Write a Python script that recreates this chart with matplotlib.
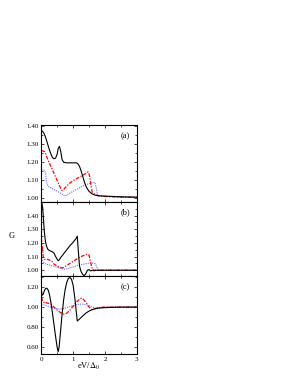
import matplotlib
matplotlib.use("Agg")
import matplotlib.pyplot as plt
from matplotlib.ticker import MultipleLocator, FormatStrFormatter, FixedLocator

plt.rcParams['font.family'] = ['Liberation Serif', 'DejaVu Serif']
plt.rcParams['mathtext.fontset'] = 'stix'

# ---------------- data ----------------
# panel (a)
xa_black = [0, 0.05, 0.1, 0.15, 0.2, 0.25, 0.3, 0.35, 0.4, 0.45, 0.5, 0.53, 0.57, 0.61, 0.65, 0.7, 0.8, 0.9, 1.0, 1.1, 1.15, 1.2, 1.25, 1.3, 1.35, 1.4, 1.45, 1.5, 1.6, 1.7, 1.8, 2.0, 2.5, 3.0]
ya_black = [1.378, 1.37, 1.355, 1.33, 1.30, 1.27, 1.245, 1.225, 1.218, 1.222, 1.245, 1.275, 1.288, 1.26, 1.215, 1.198, 1.195, 1.195, 1.195, 1.195, 1.19, 1.175, 1.15, 1.12, 1.09, 1.065, 1.048, 1.035, 1.02, 1.013, 1.01, 1.008, 1.004, 1.002]
xa_red = [0, 0.05, 0.1, 0.15, 0.2, 0.3, 0.4, 0.5, 0.6, 0.65, 0.7, 0.8, 0.9, 1.0, 1.1, 1.2, 1.3, 1.4, 1.47, 1.52, 1.56, 1.6, 1.7, 1.8, 2.0, 2.5, 3.0]
ya_red = [1.262, 1.262, 1.258, 1.24, 1.215, 1.175, 1.135, 1.095, 1.055, 1.04, 1.045, 1.065, 1.082, 1.095, 1.105, 1.115, 1.125, 1.135, 1.145, 1.12, 1.07, 1.03, 1.015, 1.01, 1.006, 1.003, 1.001]
xa_blue = [0, 0.05, 0.1, 0.13, 0.16, 0.2, 0.3, 0.4, 0.5, 0.6, 0.7, 0.75, 0.8, 0.9, 1.0, 1.1, 1.2, 1.3, 1.4, 1.5, 1.6, 1.68, 1.72, 1.76, 1.8, 2.0, 2.5, 3.0]
ya_blue = [1.155, 1.155, 1.153, 1.14, 1.09, 1.065, 1.055, 1.045, 1.035, 1.025, 1.012, 1.008, 1.015, 1.025, 1.035, 1.045, 1.055, 1.065, 1.072, 1.078, 1.083, 1.086, 1.06, 1.02, 1.01, 1.006, 1.003, 1.001]

# panel (b)
xb_black = [0, 0.02, 0.04, 0.06, 0.08, 0.1, 0.13, 0.16, 0.2, 0.25, 0.3, 0.35, 0.4, 0.45, 0.5, 0.53, 0.56, 0.6, 0.7, 0.8, 0.9, 1.0, 1.1, 1.13, 1.16, 1.2, 1.25, 1.3, 1.35, 1.4, 1.45, 1.5, 1.55, 1.6, 1.7, 2.0, 3.0]
yb_black = [1.55, 1.49, 1.46, 1.40, 1.33, 1.27, 1.21, 1.18, 1.155, 1.145, 1.14, 1.135, 1.125, 1.10, 1.08, 1.07, 1.075, 1.09, 1.12, 1.15, 1.18, 1.205, 1.235, 1.25, 1.15, 1.03, 0.99, 0.97, 0.96, 0.975, 1.00, 1.005, 0.995, 1.0, 1.0, 1.0, 1.0]
xb_red = [0, 0.03, 0.06, 0.1, 0.15, 0.2, 0.25, 0.3, 0.35, 0.4, 0.5, 0.6, 0.65, 0.7, 0.8, 0.9, 1.0, 1.1, 1.2, 1.3, 1.4, 1.45, 1.5, 1.55, 1.6, 1.65, 1.7, 1.8, 2.0, 3.0]
yb_red = [1.235, 1.17, 1.10, 1.08, 1.078, 1.08, 1.075, 1.07, 1.06, 1.045, 1.03, 1.02, 1.017, 1.02, 1.035, 1.05, 1.065, 1.08, 1.095, 1.105, 1.115, 1.118, 1.11, 1.06, 1.01, 0.995, 1.0, 1.0, 1.0, 1.0]
xb_blue = [0, 0.05, 0.1, 0.15, 0.2, 0.3, 0.4, 0.5, 0.6, 0.7, 0.8, 0.9, 1.0, 1.1, 1.2, 1.3, 1.4, 1.5, 1.6, 1.7, 1.75, 1.8, 2.0, 3.0]
yb_blue = [1.09, 1.07, 1.05, 1.045, 1.042, 1.035, 1.03, 1.022, 1.015, 1.008, 1.01, 1.018, 1.025, 1.032, 1.038, 1.043, 1.048, 1.052, 1.053, 1.048, 1.02, 1.0, 1.0, 1.0]

# panel (c)
xc_black = [0, 0.03, 0.06, 0.1, 0.14, 0.18, 0.22, 0.26, 0.3, 0.35, 0.4, 0.45, 0.5, 0.53, 0.56, 0.6, 0.65, 0.7, 0.75, 0.8, 0.85, 0.9, 0.95, 1.0, 1.05, 1.1, 1.13, 1.2, 1.3, 1.4, 1.5, 1.6, 1.7, 1.8, 2.0, 2.5, 3.0]
yc_black = [1.17, 1.12, 1.13, 1.17, 1.19, 1.19, 1.17, 1.12, 1.05, 0.94, 0.82, 0.70, 0.59, 0.55, 0.60, 0.74, 0.92, 1.07, 1.18, 1.25, 1.29, 1.30, 1.28, 1.22, 1.10, 0.95, 0.86, 0.88, 0.91, 0.94, 0.96, 0.975, 0.985, 0.99, 0.995, 1.0, 1.0]
xc_red = [0, 0.05, 0.1, 0.15, 0.2, 0.3, 0.4, 0.5, 0.6, 0.7, 0.75, 0.8, 0.9, 1.0, 1.1, 1.2, 1.25, 1.3, 1.4, 1.5, 1.6, 1.7, 1.8, 2.0, 3.0]
yc_red = [1.10, 1.06, 1.04, 1.045, 1.04, 1.03, 1.0, 0.97, 0.945, 0.93, 0.93, 0.94, 0.97, 1.01, 1.05, 1.08, 1.09, 1.085, 1.05, 1.0, 0.975, 0.985, 0.995, 1.0, 1.0]
xc_blue = [0, 0.1, 0.2, 0.3, 0.4, 0.5, 0.6, 0.7, 0.8, 0.9, 1.0, 1.1, 1.2, 1.3, 1.4, 1.5, 1.6, 1.7, 1.8, 2.0, 3.0]
yc_blue = [1.03, 1.02, 1.01, 1.0, 0.99, 0.985, 0.98, 0.985, 0.995, 1.005, 1.015, 1.025, 1.03, 1.03, 1.025, 1.015, 1.0, 0.99, 0.995, 1.0, 1.0]

panel_labels = ['(a)', '(b)', '(c)']
xticks = [0, 1, 2, 3]
yticks_a = [1.00, 1.10, 1.20, 1.30, 1.40]
yticks_b = [1.00, 1.10, 1.20, 1.30, 1.40]
yticks_c = [0.60, 0.80, 1.00, 1.20]

# ---------------- figure ----------------
fig = plt.figure(figsize=(2.91, 3.76), dpi=100)
L, W = 0.142, 0.328
axa = fig.add_axes([L, 0.4628, W, 0.2035])
axb = fig.add_axes([L, 0.2660, W, 0.1968])
axc = fig.add_axes([L, 0.0585, W, 0.2074])

black_kw = dict(color='black', lw=0.8, ls='-')
red_kw = dict(color='red', lw=0.9, ls=(0, (3, 1.2, 1, 1.2)))
blue_kw = dict(color='#6a6aff', lw=0.8, ls=(0, (1, 1)))

data = [
    (axa, xa_black, ya_black, xa_red, ya_red, xa_blue, ya_blue, (0.975, 1.405), yticks_a, 0.05),
    (axb, xb_black, yb_black, xb_red, yb_red, xb_blue, yb_blue, (0.958, 1.50), yticks_b, 0.05),
    (axc, xc_black, yc_black, xc_red, yc_red, xc_blue, yc_blue, (0.527, 1.314), yticks_c, 0.1),
]

for i, (ax, xk, yk, xr, yr, xbl, ybl, ylim, yt, ymin) in enumerate(data):
    ax.plot(xbl, ybl, **blue_kw)
    ax.plot(xr, yr, **red_kw)
    ax.plot(xk, yk, **black_kw)
    ax.set_xlim(0, 3)
    ax.set_ylim(*ylim)
    ax.xaxis.set_major_locator(FixedLocator(xticks))
    ax.xaxis.set_minor_locator(MultipleLocator(0.5))
    ax.yaxis.set_major_locator(FixedLocator(yt))
    ax.yaxis.set_minor_locator(MultipleLocator(ymin))
    ax.yaxis.set_major_formatter(FormatStrFormatter('%.2f'))
    ax.tick_params(which='both', direction='in', top=True, right=True, width=0.5, labelsize=5, pad=2)
    ax.tick_params(which='major', length=2.5)
    ax.tick_params(which='minor', length=1.3)
    for s in ax.spines.values():
        s.set_linewidth(0.8)
    ax.text(0.88, 0.86, panel_labels[i], transform=ax.transAxes, fontsize=6, ha='center', va='center')
    if i < 2:
        ax.tick_params(labelbottom=False)

fig.text(12 / 291, 1 - 236 / 376, 'G', fontsize=6, ha='center', va='center')
fig.text((41.3 + 136.7) / 2 / 291, 1 - 366 / 376, r'eV/$\Delta_0$', fontsize=6, ha='center', va='center')

fig.savefig('out.png', dpi=100)
